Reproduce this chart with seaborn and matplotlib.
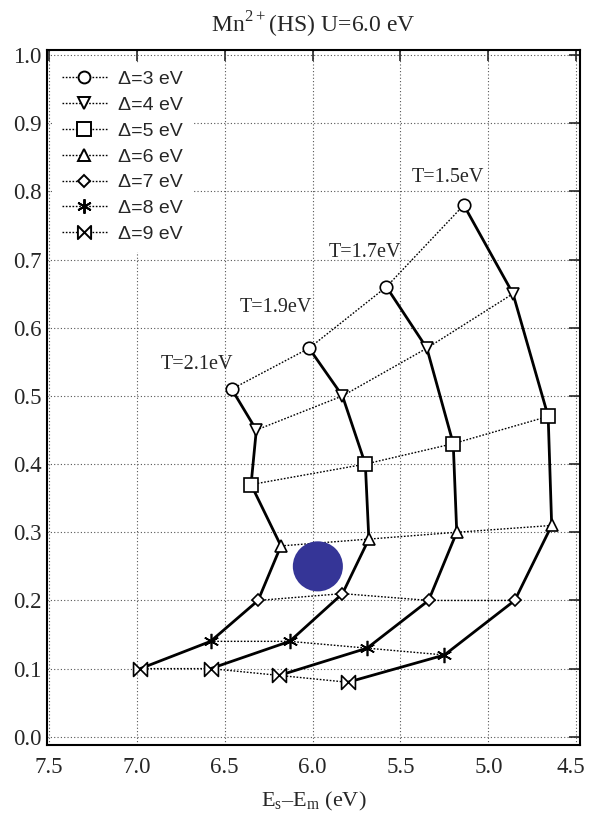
import numpy as np
import pandas as pd
import seaborn as sns
import matplotlib
matplotlib.use("Agg")
import matplotlib.pyplot as plt
import matplotlib.transforms as mtransforms
from matplotlib.path import Path
from matplotlib.lines import Line2D

# Charge-transfer energies Delta (eV) and hybridisation strengths T (eV)
deltas = [3, 4, 5, 6, 7, 8, 9]
t_values = [2.1, 1.9, 1.7, 1.5]

# E_s - E_m (eV) for each Delta, ordered by T = 2.1, 1.9, 1.7, 1.5
es_em = {
    3: [6.46, 6.02, 5.58, 5.14],
    4: [6.32, 5.83, 5.35, 4.86],
    5: [6.35, 5.70, 5.20, 4.66],
    6: [6.18, 5.68, 5.18, 4.64],
    7: [6.31, 5.83, 5.34, 4.85],
    8: [6.58, 6.13, 5.69, 5.25],
    9: [6.98, 6.58, 6.19, 5.80],
}
# Ratio values for each Delta, same T ordering
ratio = {
    3: [0.51, 0.57, 0.66, 0.78],
    4: [0.45, 0.50, 0.57, 0.65],
    5: [0.37, 0.40, 0.43, 0.47],
    6: [0.28, 0.29, 0.30, 0.31],
    7: [0.20, 0.21, 0.20, 0.20],
    8: [0.14, 0.14, 0.13, 0.12],
    9: [0.10, 0.10, 0.09, 0.08],
}
t_labels = ["T=2.1eV", "T=1.9eV", "T=1.7eV", "T=1.5eV"]
t_label_pos = [(6.66, 0.546), (6.21, 0.629), (5.70, 0.71), (5.23, 0.82)]
highlight = (5.97, 0.25)

rows = []
for d in deltas:
    for t, x, y in zip(t_values, es_em[d], ratio[d]):
        rows.append({"delta": d, "T": t, "x": x, "y": y})
df = pd.DataFrame(rows)

sns.set_style("white")
plt.rcParams["font.family"] = ["Liberation Serif", "DejaVu Serif"]
plt.rcParams["mathtext.fontset"] = "custom"
plt.rcParams["mathtext.rm"] = "Liberation Serif"

bowtie = Path([(-1, 1), (-1, -1), (1, 1), (1, -1), (-1, 1)],
              [Path.MOVETO, Path.LINETO, Path.LINETO, Path.LINETO, Path.CLOSEPOLY])
markers = {3: "o", 4: "v", 5: "s", 6: "^", 7: "D", 8: (6, 2, 0), 9: bowtie}
msizes = {3: 9, 4: 9, 5: 10, 6: 9, 7: 6, 8: 11, 9: 10}

fig = plt.figure(figsize=(5.89, 8.19), dpi=100)
ax = fig.add_axes([0.080, 0.0904, 0.905, 0.849])

# solid curves: constant T, varying Delta
for t in t_values:
    sub = df[df["T"] == t].sort_values("delta")
    sns.lineplot(data=sub, x="x", y="y", sort=False, estimator=None,
                 color="black", lw=2.0, ax=ax, zorder=3)

# dotted lines with markers: constant Delta, varying T
handles = []
for d in deltas:
    sub = df[df["delta"] == d].sort_values("T", ascending=False)
    sns.lineplot(data=sub, x="x", y="y", sort=False, estimator=None,
                 color="black", lw=1.0, linestyle=(0, (1.2, 1.2)), ax=ax, zorder=4)
    ax.plot(sub["x"], sub["y"], linestyle="none", marker=markers[d],
            markersize=msizes[d], markerfacecolor="white", markeredgecolor="black",
            markeredgewidth=1.2, zorder=5)
    handles.append(Line2D([], [], color="black", lw=1.0, linestyle=(0, (1.2, 1.2)),
                          marker=markers[d], markersize=msizes[d] * 0.95,
                          markerfacecolor="white", markeredgecolor="black",
                          markeredgewidth=1.4, label=f"Δ={d} eV"))

for lab, (x, y) in zip(t_labels, t_label_pos):
    ax.text(x, y, lab, ha="center", va="center", fontsize=14.5)

ax.scatter([highlight[0]], [highlight[1]], s=1300, color="#353597", zorder=6,
           edgecolors="none")

ax.set_xlim(7.51, 4.478)
ax.set_ylim(-0.012, 1.008)
xt = np.arange(7.5, 4.49, -0.5)
yt = np.arange(0, 1.01, 0.1)
ax.set_xticks(xt)
ax.set_yticks(yt)
ax.set_xticklabels([f"{v:.1f}" for v in xt])
ax.set_yticklabels([f"{v:.1f}" for v in yt])
ax.tick_params(direction="in", length=8, width=1.2, top=True, right=True,
               labelsize=16.5, pad=4)
ax.tick_params(axis="x", pad=9)
# nudge the right-most x label so it stays inside the figure
last = ax.get_xticklabels()[-1]
last.set_transform(last.get_transform() +
                   mtransforms.ScaledTranslation(-4 / 72, 0, fig.dpi_scale_trans))
ax.grid(True, linestyle=(0, (1, 2)), color="#555555", lw=0.8)
for s in ax.spines.values():
    s.set_linewidth(1.5)
    s.set_color("black")

ax.set_xlabel(r"E$_\mathrm{s}$–E$_\mathrm{m}$ (eV)", fontsize=16, labelpad=8)
ax.set_ylabel("")
ax.set_title(r"Mn$^{2+}$(HS) U=6.0 eV", fontsize=17, pad=12)

leg = ax.legend(handles=handles, loc="upper left", bbox_to_anchor=(-0.005, 0.995),
                frameon=True, fancybox=False, edgecolor="white", framealpha=1,
                prop={"family": "Liberation Sans", "size": 14},
                handlelength=2.3, handletextpad=0.6, labelspacing=0.42,
                borderpad=0.4)

fig.savefig("out.png", dpi=100)
